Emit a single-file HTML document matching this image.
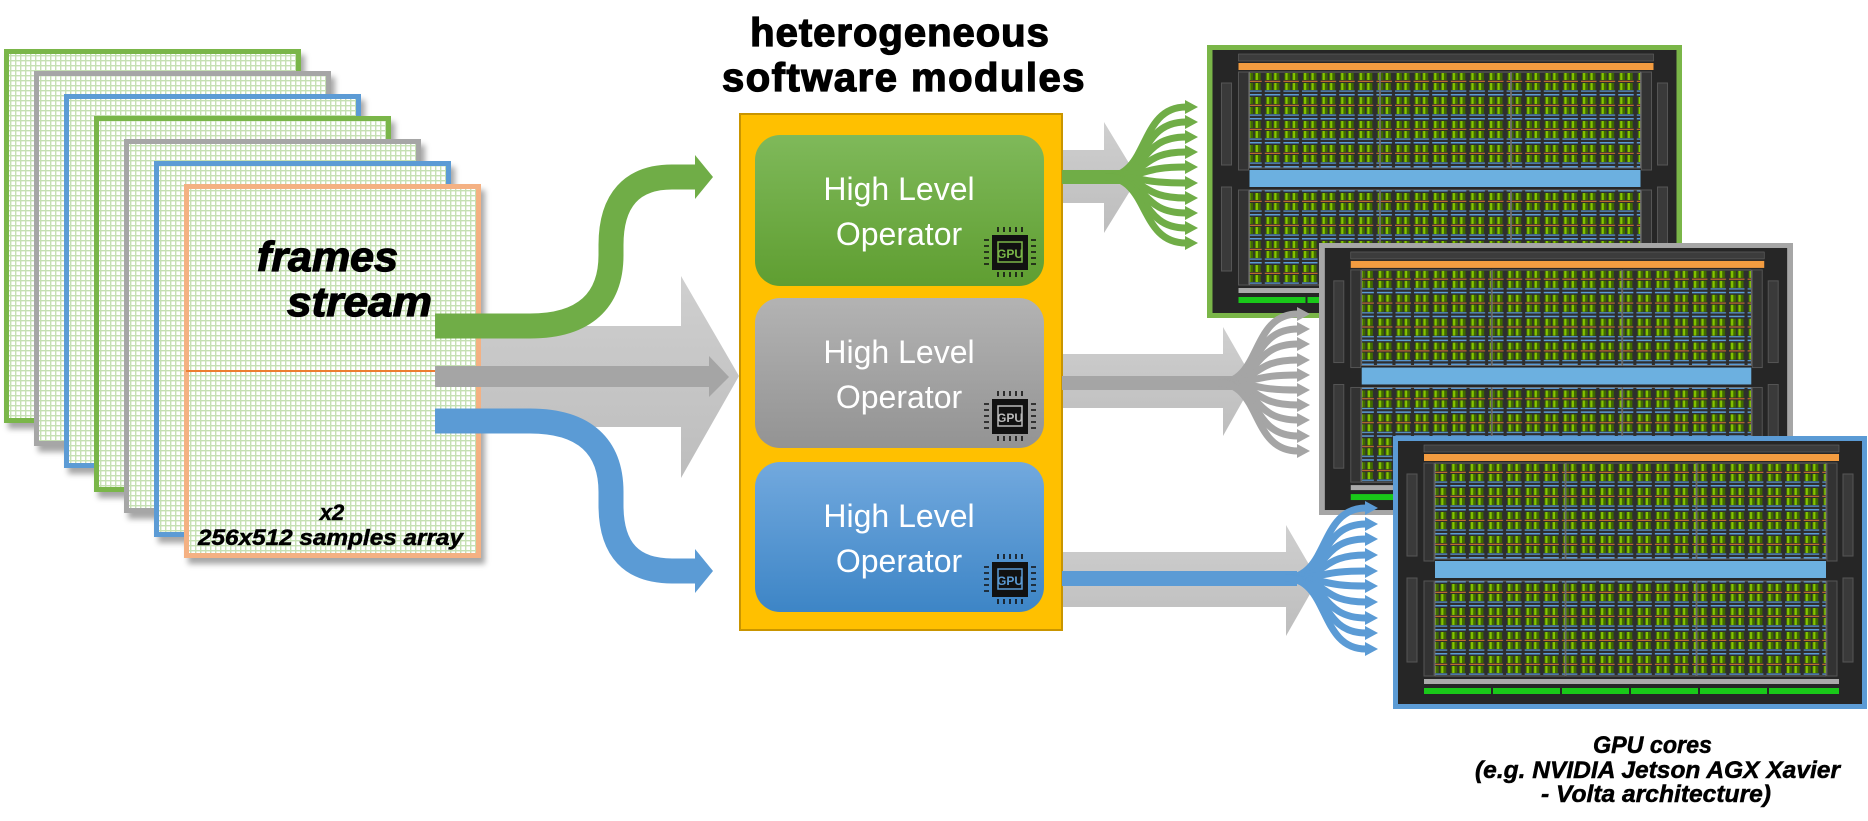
<!DOCTYPE html>
<html><head><meta charset="utf-8"><style>
html,body{margin:0;padding:0;background:#fff;}
svg{display:block;}
text{font-family:"Liberation Sans",sans-serif;}
</style></head><body>
<svg width="1868" height="821" viewBox="0 0 1868 821" xmlns="http://www.w3.org/2000/svg">
<defs>
<pattern id="grid" width="5" height="5" patternUnits="userSpaceOnUse">
<rect width="5" height="5" fill="#fff"/>
<rect width="5" height="1.4" fill="#c5e0b3"/>
<rect width="1.4" height="5" fill="#c5e0b3"/>
</pattern>
<filter id="sh" x="-10%" y="-10%" width="130%" height="130%">
<feDropShadow dx="4" dy="6" stdDeviation="3" flood-color="#000" flood-opacity="0.35"/>
</filter>
<linearGradient id="gG" x1="0" y1="0" x2="0" y2="1"><stop offset="0" stop-color="#7fb95a"/><stop offset="1" stop-color="#5f9e31"/></linearGradient>
<linearGradient id="gR" x1="0" y1="0" x2="0" y2="1"><stop offset="0" stop-color="#b3b3b3"/><stop offset="1" stop-color="#939393"/></linearGradient>
<linearGradient id="gB" x1="0" y1="0" x2="0" y2="1"><stop offset="0" stop-color="#72a9de"/><stop offset="1" stop-color="#3d85c6"/></linearGradient>
<linearGradient id="lg" x1="0" y1="0" x2="0" y2="1"><stop offset="0" stop-color="#cfcfcf"/><stop offset="1" stop-color="#bdbdbd"/></linearGradient>
<pattern id="sm" width="18.6" height="24" patternUnits="userSpaceOnUse">
<rect width="18.6" height="24" fill="#2e2e2e"/>
<rect x="1.5" y="1" width="15.5" height="1.5" fill="#5b9bd5"/>
<rect x="2.5" y="4" width="6" height="7" fill="#3f6a00"/>
<rect x="10" y="4" width="6" height="7" fill="#3f6a00"/>
<rect x="3.5" y="4" width="2.2" height="7" fill="#86c400"/>
<rect x="11" y="4" width="2.2" height="7" fill="#86c400"/>
<rect x="1.5" y="11.8" width="15.5" height="1" fill="#e07a30"/>
<rect x="2.5" y="14" width="6" height="7" fill="#3f6a00"/>
<rect x="10" y="14" width="6" height="7" fill="#3f6a00"/>
<rect x="3.5" y="14" width="2.2" height="7" fill="#86c400"/>
<rect x="11" y="14" width="2.2" height="7" fill="#86c400"/>
<rect x="1.5" y="21.5" width="15.5" height="1.2" fill="#5b9bd5"/>
</pattern>
<symbol id="die" viewBox="0 0 474 273" width="474" height="273">
<rect x="5" y="5" width="464" height="263" fill="#262626"/>
<rect x="31" y="9" width="415" height="7" fill="#3c3c3c" stroke="#666" stroke-width="0.6"/>
<rect x="31" y="18" width="415" height="7" fill="#f39c40"/>
<rect x="14" y="38" width="10" height="82" fill="#3a3a3a" stroke="#555"/>
<rect x="14" y="142" width="10" height="84" fill="#3a3a3a" stroke="#555"/>
<rect x="450" y="38" width="10" height="82" fill="#3a3a3a" stroke="#555"/>
<rect x="450" y="142" width="10" height="84" fill="#3a3a3a" stroke="#555"/>
<rect x="31" y="27" width="10" height="98" fill="#333" stroke="#555"/>
<rect x="31" y="145" width="10" height="95" fill="#333" stroke="#555"/>
<rect x="434" y="27" width="10" height="98" fill="#333" stroke="#555"/>
<rect x="434" y="145" width="10" height="95" fill="#333" stroke="#555"/>
<g stroke="#777" stroke-width="0.8">
<rect x="42" y="27" width="130" height="96" fill="url(#sm)"/>
<rect x="173" y="27" width="130" height="96" fill="url(#sm)"/>
<rect x="304" y="27" width="129" height="96" fill="url(#sm)"/>
<rect x="42" y="145" width="130" height="95" fill="url(#sm)"/>
<rect x="173" y="145" width="130" height="95" fill="url(#sm)"/>
<rect x="304" y="145" width="129" height="95" fill="url(#sm)"/>
</g>
<rect x="42" y="125" width="391" height="17" fill="#6cb0e0"/>
<rect x="31" y="243" width="415" height="5" fill="#aaa"/>
<g fill="#19c819">
<rect x="31" y="252" width="67" height="6"/><rect x="100" y="252" width="67" height="6"/><rect x="169" y="252" width="67" height="6"/>
<rect x="238" y="252" width="67" height="6"/><rect x="307" y="252" width="67" height="6"/><rect x="376" y="252" width="70" height="6"/>
</g>
</symbol>
</defs>

<g filter="url(#sh)" stroke-width="5" fill="url(#grid)">
<rect x="6.5" y="51.5" width="292" height="369" stroke="#7ab648"/>
<rect x="36.5" y="73.5" width="292" height="370" stroke="#a6a6a6"/>
<rect x="66.5" y="96.5" width="292" height="369" stroke="#5b9bd5"/>
<rect x="96.5" y="118.5" width="292" height="371" stroke="#7ab648"/>
<rect x="126.5" y="141.5" width="292" height="369" stroke="#a6a6a6"/>
<rect x="156.5" y="163.5" width="292" height="371" stroke="#5b9bd5"/>
<rect x="186.5" y="186.5" width="292" height="369" stroke="#f4b183"/>
</g>
<rect x="186" y="370" width="250" height="2" fill="#ed7d31"/>
<g stroke="#000" stroke-width="1.2">
<text x="257" y="271" font-size="42" font-weight="bold" font-style="italic" textLength="141" lengthAdjust="spacingAndGlyphs">frames</text>
<text x="287" y="316" font-size="42" font-weight="bold" font-style="italic" textLength="145" lengthAdjust="spacingAndGlyphs">stream</text>
</g>
<g stroke="#000" stroke-width="0.5">
<text x="332" y="520" font-size="22" font-weight="bold" font-style="italic" text-anchor="middle">x2</text>
<text x="198" y="545" font-size="22" font-weight="bold" font-style="italic" textLength="265" lengthAdjust="spacingAndGlyphs">256x512 samples array</text>
</g>

<polygon points="481,326 681,326 681,276 739,376 681,478 681,427 481,427" fill="url(#lg)"/>
<polygon points="435,366 709,366 709,356 729,377 709,397 709,387 435,387" fill="#a5a5a5"/>
<path d="M435,326 H530 C585,326 611,300 611,255 V245 C611,200 632,177 672,177 H697" fill="none" stroke="#70ad47" stroke-width="25"/>
<polygon points="695,155 713,177 695,199" fill="#70ad47"/>
<path d="M435,421 H530 C585,421 611,447 611,492 V505 C611,550 632,571 672,571 H697" fill="none" stroke="#5b9bd5" stroke-width="25"/>
<polygon points="695,549 713,571 695,593" fill="#5b9bd5"/>

<g stroke="#000" stroke-width="1.3">
<text x="900" y="46" font-size="40" font-weight="bold" text-anchor="middle" letter-spacing="1">heterogeneous</text>
<text x="904" y="91" font-size="40" font-weight="bold" text-anchor="middle" letter-spacing="1.5">software modules</text>
</g>

<rect x="740" y="114" width="322" height="516" fill="#ffc000" stroke="#c99500" stroke-width="2"/>
<rect x="755" y="135" width="289" height="151" rx="25" fill="url(#gG)"/>
<rect x="755" y="298" width="289" height="150" rx="25" fill="url(#gR)"/>
<rect x="755" y="462" width="289" height="150" rx="25" fill="url(#gB)"/>
<g fill="#fff" font-size="32" text-anchor="middle">
<text x="899" y="200">High Level</text><text x="899" y="245">Operator</text>
<text x="899" y="363">High Level</text><text x="899" y="408">Operator</text>
<text x="899" y="527">High Level</text><text x="899" y="572">Operator</text>
</g>
<g transform="translate(1010,252)">
<path stroke="#111" stroke-width="1.6" d="M-12,-25v5M-6,-25v5M0,-25v5M6,-25v5M12,-25v5M-12,20v5M-6,20v5M0,20v5M6,20v5M12,20v5M-26,-12h5M-26,-6h5M-26,0h5M-26,6h5M-26,12h5M21,-12h5M21,-6h5M21,0h5M21,6h5M21,12h5"/>
<rect x="-18" y="-17" width="36" height="35" fill="#111"/>
<rect x="-12" y="-10" width="24" height="20" fill="none" stroke="#7ab648" stroke-width="1.5"/>
<text x="0" y="6" font-size="12" fill="#7ab648" text-anchor="middle" font-weight="bold">GPU</text>
</g>
<g transform="translate(1010,416)">
<path stroke="#111" stroke-width="1.6" d="M-12,-25v5M-6,-25v5M0,-25v5M6,-25v5M12,-25v5M-12,20v5M-6,20v5M0,20v5M6,20v5M12,20v5M-26,-12h5M-26,-6h5M-26,0h5M-26,6h5M-26,12h5M21,-12h5M21,-6h5M21,0h5M21,6h5M21,12h5"/>
<rect x="-18" y="-17" width="36" height="35" fill="#111"/>
<rect x="-12" y="-10" width="24" height="20" fill="none" stroke="#bbb" stroke-width="1.5"/>
<text x="0" y="6" font-size="12" fill="#bbb" text-anchor="middle" font-weight="bold">GPU</text>
</g>
<g transform="translate(1010,579)">
<path stroke="#111" stroke-width="1.6" d="M-12,-25v5M-6,-25v5M0,-25v5M6,-25v5M12,-25v5M-12,20v5M-6,20v5M0,20v5M6,20v5M12,20v5M-26,-12h5M-26,-6h5M-26,0h5M-26,6h5M-26,12h5M21,-12h5M21,-6h5M21,0h5M21,6h5M21,12h5"/>
<rect x="-18" y="-17" width="36" height="35" fill="#111"/>
<rect x="-12" y="-10" width="24" height="20" fill="none" stroke="#5b9bd5" stroke-width="1.5"/>
<text x="0" y="6" font-size="12" fill="#5b9bd5" text-anchor="middle" font-weight="bold">GPU</text>
</g>

<rect x="1207" y="45" width="475" height="273" fill="#7ab648"/>
<use href="#die" x="1207" y="45" width="475" height="273"/>
<rect x="1319" y="243" width="474" height="272" fill="#a6a6a6"/>
<use href="#die" x="1319" y="243" width="474" height="272"/>
<rect x="1393" y="436" width="474" height="273" fill="#5b9bd5"/>
<use href="#die" x="1393" y="436" width="474" height="273"/>

<polygon points="1063,150 1104,150 1104,122 1138,178 1104,233 1104,203 1063,203" fill="url(#lg)"/>
<rect x="1062" y="170" width="60" height="14" fill="#70ad47"/>
<polygon points="1063,354 1223,354 1223,327 1254,381 1223,436 1223,408 1063,408" fill="url(#lg)"/>
<rect x="1062" y="376" width="170" height="14" fill="#a5a5a5"/>
<polygon points="1063,552 1286,552 1286,525 1318,580 1286,636 1286,607 1063,607" fill="url(#lg)"/>
<rect x="1062" y="571" width="235" height="15" fill="#5b9bd5"/>

<g fill="none" stroke="#70ad47" stroke-width="7">
<path d="M1105,177 C1150,177 1138,107 1186,107"/><path d="M1105,177 C1150,177 1138,122 1186,122"/>
<path d="M1105,177 C1150,177 1138,137 1186,137"/><path d="M1105,177 C1150,177 1138,152 1186,152"/>
<path d="M1105,177 C1150,177 1138,167 1186,167"/><path d="M1105,177 C1150,177 1138,183 1186,183"/>
<path d="M1105,177 C1150,177 1138,198 1186,198"/><path d="M1105,177 C1150,177 1138,213 1186,213"/>
<path d="M1105,177 C1150,177 1138,228 1186,228"/><path d="M1105,177 C1150,177 1138,243 1186,243"/>
</g>
<g fill="#70ad47">
<polygon points="1185,100 1198,107 1185,114"/><polygon points="1185,115 1198,122 1185,129"/><polygon points="1185,130 1198,137 1185,144"/><polygon points="1185,145 1198,152 1185,159"/><polygon points="1185,160 1198,167 1185,174"/><polygon points="1185,176 1198,183 1185,190"/><polygon points="1185,191 1198,198 1185,205"/><polygon points="1185,206 1198,213 1185,220"/><polygon points="1185,221 1198,228 1185,235"/><polygon points="1185,236 1198,243 1185,250"/>
</g>
<g fill="none" stroke="#a5a5a5" stroke-width="7">
<path d="M1218,383 C1262,383 1250,314 1298,314"/><path d="M1218,383 C1262,383 1250,329 1298,329"/>
<path d="M1218,383 C1262,383 1250,344 1298,344"/><path d="M1218,383 C1262,383 1250,360 1298,360"/>
<path d="M1218,383 C1262,383 1250,375 1298,375"/><path d="M1218,383 C1262,383 1250,390 1298,390"/>
<path d="M1218,383 C1262,383 1250,405 1298,405"/><path d="M1218,383 C1262,383 1250,420 1298,420"/>
<path d="M1218,383 C1262,383 1250,436 1298,436"/><path d="M1218,383 C1262,383 1250,451 1298,451"/>
</g>
<g fill="#a5a5a5">
<polygon points="1297,307 1310,314 1297,321"/><polygon points="1297,322 1310,329 1297,336"/><polygon points="1297,337 1310,344 1297,351"/><polygon points="1297,353 1310,360 1297,367"/><polygon points="1297,368 1310,375 1297,382"/><polygon points="1297,383 1310,390 1297,397"/><polygon points="1297,398 1310,405 1297,412"/><polygon points="1297,413 1310,420 1297,427"/><polygon points="1297,429 1310,436 1297,443"/><polygon points="1297,444 1310,451 1297,458"/>
</g>
<g fill="none" stroke="#5b9bd5" stroke-width="7">
<path d="M1285,578 C1330,578 1318,508 1366,508"/><path d="M1285,578 C1330,578 1318,524 1366,524"/>
<path d="M1285,578 C1330,578 1318,539 1366,539"/><path d="M1285,578 C1330,578 1318,555 1366,555"/>
<path d="M1285,578 C1330,578 1318,571 1366,571"/><path d="M1285,578 C1330,578 1318,586 1366,586"/>
<path d="M1285,578 C1330,578 1318,602 1366,602"/><path d="M1285,578 C1330,578 1318,618 1366,618"/>
<path d="M1285,578 C1330,578 1318,633 1366,633"/><path d="M1285,578 C1330,578 1318,649 1366,649"/>
</g>
<g fill="#5b9bd5">
<polygon points="1365,501 1378,508 1365,515"/><polygon points="1365,517 1378,524 1365,531"/><polygon points="1365,532 1378,539 1365,546"/><polygon points="1365,548 1378,555 1365,562"/><polygon points="1365,564 1378,571 1365,578"/><polygon points="1365,579 1378,586 1365,593"/><polygon points="1365,595 1378,602 1365,609"/><polygon points="1365,611 1378,618 1365,625"/><polygon points="1365,626 1378,633 1365,640"/><polygon points="1365,642 1378,649 1365,656"/>
</g>

<g font-size="24" font-weight="bold" font-style="italic" stroke="#000" stroke-width="0.5">
<text x="1593" y="753" textLength="119" lengthAdjust="spacingAndGlyphs">GPU cores</text>
<text x="1475" y="778" textLength="365" lengthAdjust="spacingAndGlyphs">(e.g. NVIDIA Jetson AGX Xavier</text>
<text x="1541" y="802" textLength="230" lengthAdjust="spacingAndGlyphs">- Volta architecture)</text>
</g>
</svg>
</body></html>
